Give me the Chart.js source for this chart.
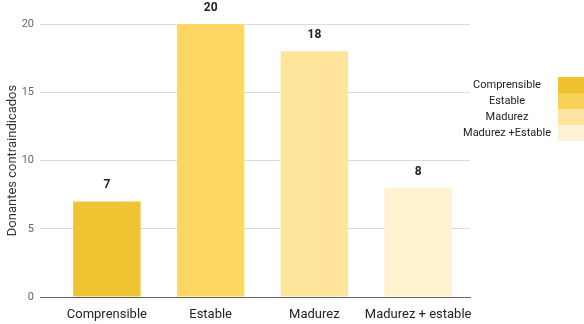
<!DOCTYPE html>
<html lang="es">
<head>
  <meta charset="UTF-8" />
  <title>Donantes contraindicados</title>
  <script src="https://cdn.jsdelivr.net/npm/chart.js"></script>
  <style>
    body { margin: 0; padding: 0; background: #fff; font-family: Roboto, sans-serif; }
    #wrap { position: relative; width: 584px; height: 324px; }
    #legend { position: absolute; left: 440px; top: 77px; width: 144px; }
    .row { position: relative; height: 16px; }
    .row span { position: absolute; left: 0; width: 134px; text-align: center; font-size: 11px; line-height: 16px; color: #222; }
    .row i { position: absolute; left: 118px; width: 26px; height: 16px; }
  </style>
</head>
<body>
  <div id="wrap">
    <canvas id="chart" width="584" height="324"></canvas>
    <div id="legend"></div>
  </div>

  <script>
    const categories = ['Comprensible', 'Estable', 'Madurez', 'Madurez + estable'];
    const values = [7, 20, 18, 8];
    const barColors = ['#F0C332', '#FED862', '#FFE49C', '#FFF2CF'];
    const legendLabels = ['Comprensible', 'Estable', 'Madurez', 'Madurez +Estable'];
    const legendColors = ['#EFC12F', '#F9D158', '#FEE39F', '#FFF2D6'];
    const yTicks = [0, 5, 10, 15, 20];

    // legend on the right
    const legend = document.getElementById('legend');
    legendLabels.forEach((lab, i) => {
      const row = document.createElement('div');
      row.className = 'row';
      row.innerHTML = '<span>' + lab + '</span><i style="background:' + legendColors[i] + '"></i>';
      legend.appendChild(row);
    });

    // values above the bars
    const valueLabels = {
      id: 'valueLabels',
      afterDatasetsDraw(chart) {
        const ctx = chart.ctx;
        const meta = chart.getDatasetMeta(0);
        ctx.save();
        ctx.font = 'bold 12px Roboto, sans-serif';
        ctx.fillStyle = '#222';
        ctx.textAlign = 'center';
        ctx.textBaseline = 'middle';
        meta.data.forEach((bar, i) => {
          ctx.fillText(values[i], bar.x, bar.y - 16);
        });
        ctx.restore();
      }
    };

    new Chart(document.getElementById('chart'), {
      type: 'bar',
      data: {
        labels: categories,
        datasets: [{
          data: values,
          backgroundColor: barColors,
          barPercentage: 0.65,
          categoryPercentage: 1
        }]
      },
      options: {
        responsive: false,
        animation: false,
        layout: { padding: { top: 24, right: 114, left: 5, bottom: 0 } },
        plugins: {
          legend: { display: false },
          tooltip: { enabled: false }
        },
        scales: {
          x: {
            grid: { display: false },
            border: { display: true, color: '#666', width: 1 },
            ticks: {
              color: '#222',
              font: { family: 'Roboto', size: 13 },
              padding: 2,
              maxRotation: 0,
              minRotation: 0,
              autoSkip: false
            },
            afterFit: s => { s.height = 27; }
          },
          y: {
            min: 0,
            max: 20,
            afterBuildTicks: s => { s.ticks = yTicks.map(v => ({ value: v })); },
            border: { display: false },
            grid: {
              color: c => c.tick && c.tick.value === 0 ? '#666' : '#dcdcdc',
              drawTicks: true,
              tickLength: 15
            },
            ticks: { color: '#666', font: { family: 'Roboto', size: 11 }, padding: 6 },
            title: {
              display: true,
              text: 'Donantes contraindicados',
              color: '#333',
              font: { family: 'Roboto', size: 13 },
              padding: 0
            },
            afterFit: s => { s.width = 50; }
          }
        }
      },
      plugins: [valueLabels]
    });
  </script>
</body>
</html>
